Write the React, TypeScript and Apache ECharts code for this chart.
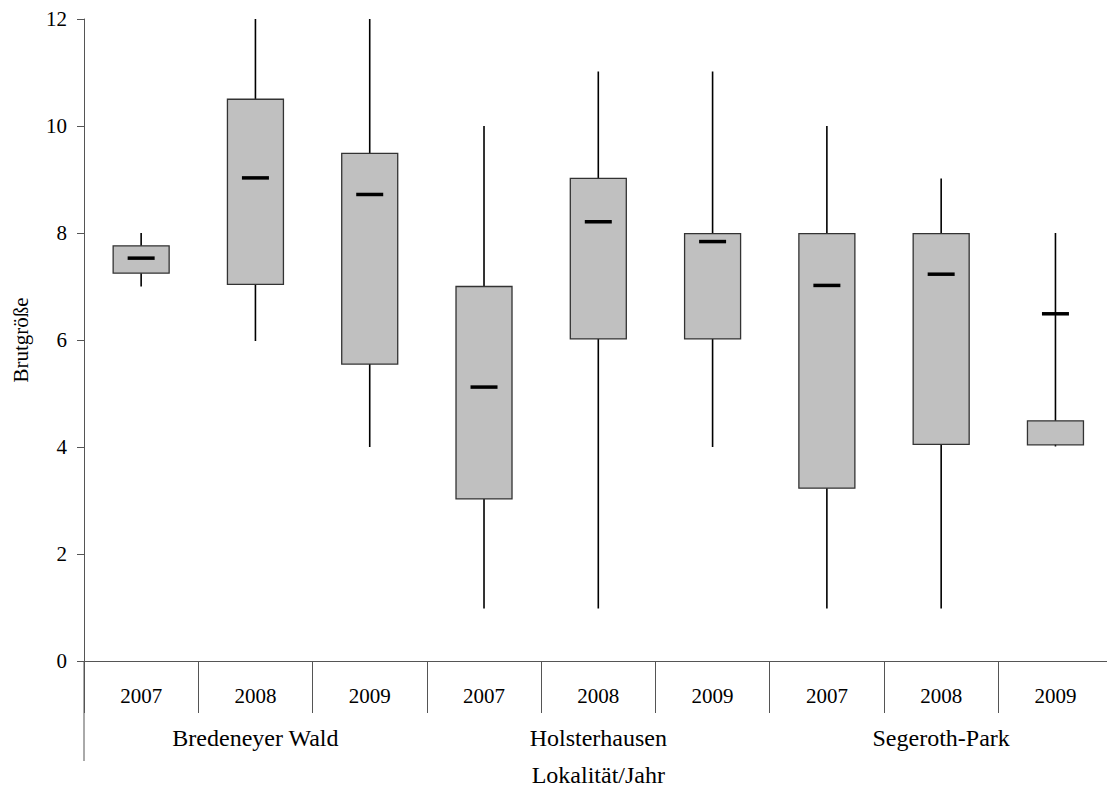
import React, { useEffect, useRef } from "react";
import * as echarts from "echarts";

const years = ["2007", "2008", "2009", "2007", "2008", "2009", "2007", "2008", "2009"];
const sites = ["Bredeneyer Wald", "Holsterhausen", "Segeroth-Park"];
const whiskerLow = [7.0, 5.98, 4.0, 0.98, 0.98, 4.0, 0.98, 0.98, 4.01];
const q1 = [7.25, 7.04, 5.55, 3.03, 6.02, 6.02, 3.23, 4.05, 4.04];
const median = [7.53, 9.03, 8.72, 5.12, 8.21, 7.84, 7.02, 7.23, 6.49];
const q3 = [7.76, 10.5, 9.49, 7.0, 9.02, 7.99, 7.99, 7.99, 4.49];
const whiskerHigh = [8.0, 12.0, 12.0, 10.0, 11.02, 11.02, 10.0, 9.02, 8.0];
const yTicks = { min: 0, max: 12, interval: 2 };

const FONT = "'Liberation Serif', 'Times New Roman', serif";

export default function App() {
  const ref = useRef<HTMLDivElement>(null);
  useEffect(() => {
    if (!ref.current) return;
    const chart = echarts.init(ref.current, null, { renderer: "svg" });
    const data = years.map((_, i) => [i, whiskerLow[i], q1[i], median[i], q3[i], whiskerHigh[i]]);
    const gridLeft = 84;
    const gridTop = 19;
    const gridBottom = 132;
    const plotW = 1028.6;
    const axisY = 793 - gridBottom;
    chart.setOption({
      animation: false,
      textStyle: { fontFamily: FONT, color: "#000" },
      grid: {
        left: gridLeft,
        top: gridTop,
        right: 1107 - gridLeft - plotW,
        bottom: gridBottom,
        containLabel: false,
        outerBoundsMode: "none",
      },
      xAxis: [
        {
          type: "category",
          data: years,
          boundaryGap: true,
          axisLine: { lineStyle: { color: "#555", width: 1 } },
          axisTick: { show: true, interval: 0, length: 52, alignWithLabel: false, lineStyle: { color: "#555" } },
          axisLabel: { interval: 0, margin: 24, fontSize: 21, color: "#000", fontFamily: FONT },
          name: "Lokalität/Jahr",
          nameLocation: "middle",
          nameGap: 102,
          nameTextStyle: { fontSize: 24, color: "#000", fontFamily: FONT },
        },
        {
          type: "category",
          data: sites,
          position: "bottom",
          boundaryGap: true,
          axisLine: { show: false },
          axisTick: { show: false },
          axisLabel: { interval: 0, margin: 65, fontSize: 24, color: "#000", fontFamily: FONT },
        },
      ],
      yAxis: {
        type: "value",
        min: yTicks.min,
        max: yTicks.max,
        interval: yTicks.interval,
        splitLine: { show: false },
        axisLine: { show: true, lineStyle: { color: "#555" } },
        axisTick: { show: true, length: 7, lineStyle: { color: "#555" } },
        axisLabel: { margin: 17, fontSize: 21, color: "#000", fontFamily: FONT },
        name: "Brutgröße",
        nameLocation: "middle",
        nameRotate: 90,
        nameGap: 53,
        nameTextStyle: { fontSize: 21, color: "#000", fontFamily: FONT },
      },
      graphic: [
        {
          type: "line",
          shape: { x1: gridLeft, y1: axisY, x2: gridLeft, y2: axisY + 100 },
          style: { stroke: "#555", lineWidth: 1 },
        },
      ],
      series: [
        {
          type: "custom",
          xAxisIndex: 0,
          yAxisIndex: 0,
          clip: false,
          encode: { x: 0, y: [1, 2, 3, 4, 5] },
          data,
          renderItem: (params: any, api: any) => {
            const x = api.value(0);
            const pLow = api.coord([x, api.value(1)]);
            const pQ1 = api.coord([x, api.value(2)]);
            const pMed = api.coord([x, api.value(3)]);
            const pQ3 = api.coord([x, api.value(4)]);
            const pHigh = api.coord([x, api.value(5)]);
            const w = api.size([1, 0])[0] * 0.49;
            const mh = 13.5;
            return {
              type: "group",
              children: [
                {
                  type: "line",
                  shape: { x1: pLow[0], y1: pLow[1], x2: pHigh[0], y2: pHigh[1] },
                  style: { stroke: "#000", lineWidth: 1.6 },
                },
                {
                  type: "rect",
                  shape: { x: pQ3[0] - w / 2, y: pQ3[1], width: w, height: pQ1[1] - pQ3[1] },
                  style: { fill: "#c0c0c0", stroke: "#333", lineWidth: 1.3 },
                },
                {
                  type: "line",
                  shape: { x1: pMed[0] - mh, y1: pMed[1], x2: pMed[0] + mh, y2: pMed[1] },
                  style: { stroke: "#000", lineWidth: 3.5 },
                },
              ],
            };
          },
        },
      ],
    });
    return () => chart.dispose();
  }, []);
  return (
    <div
      ref={ref}
      style={{ position: "absolute", left: 0, top: 0, width: 1107, height: 793, background: "#fff" }}
    />
  );
}
